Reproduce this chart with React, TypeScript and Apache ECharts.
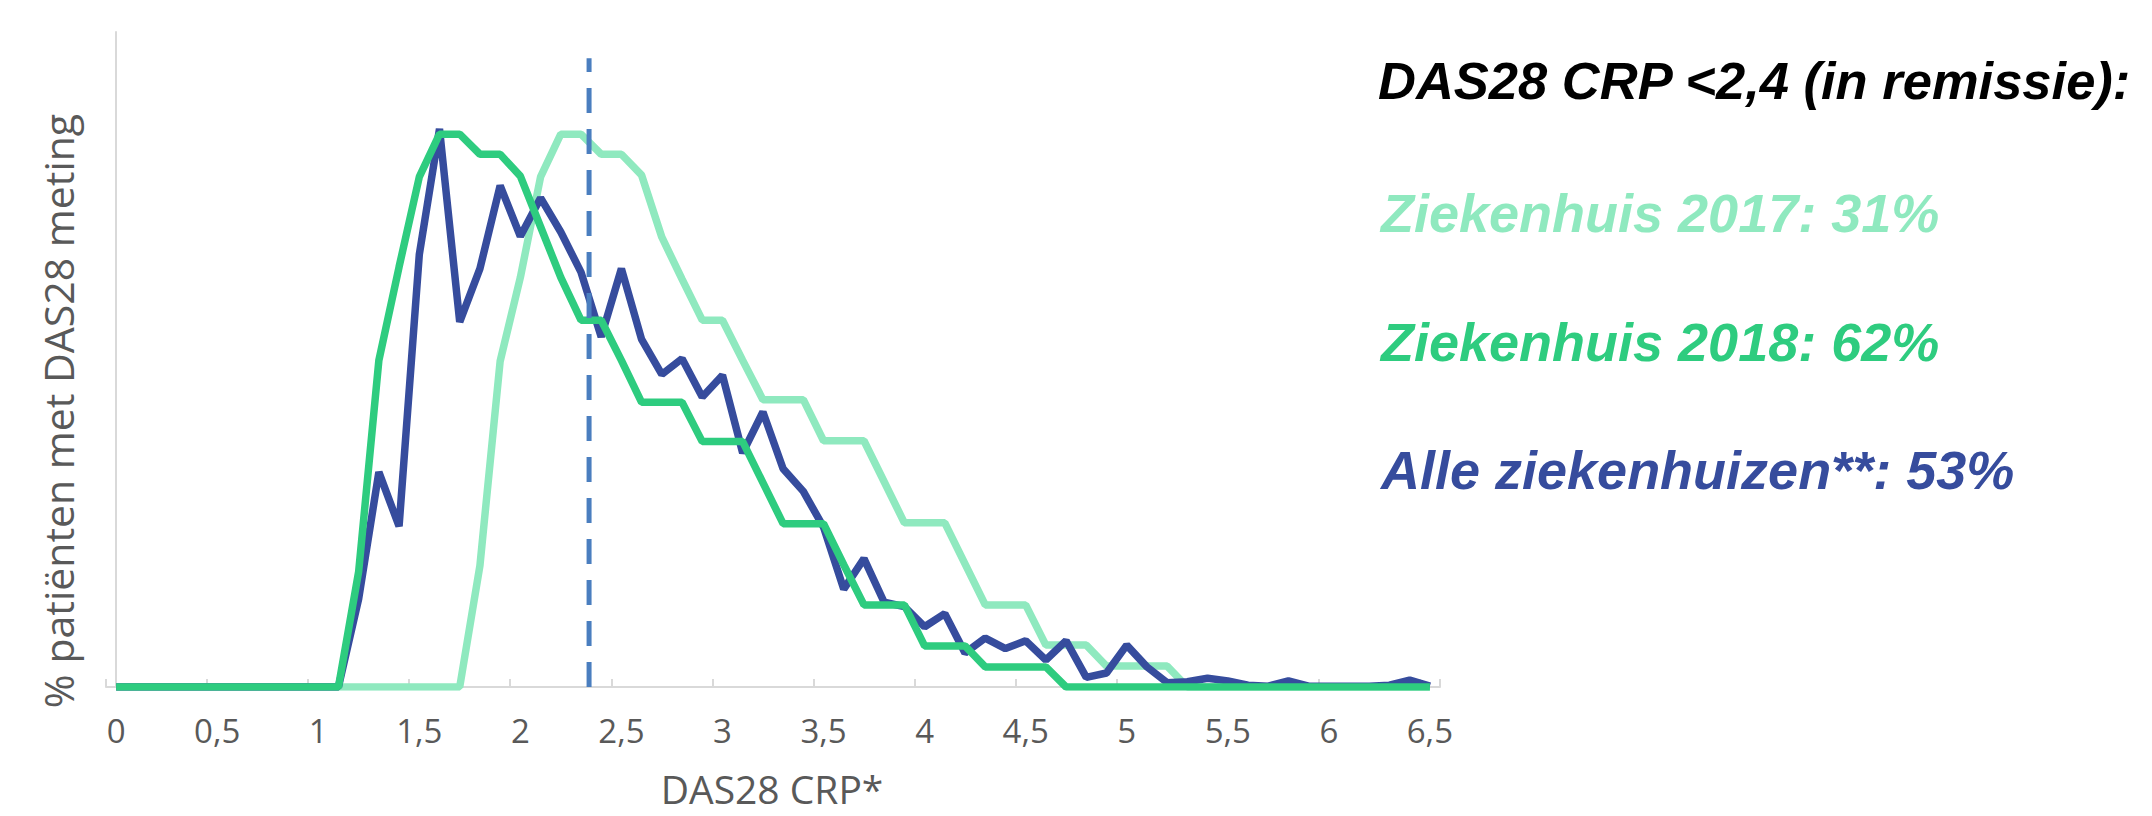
import React, { useEffect, useRef } from "react";
import * as echarts from "echarts";

const CATEGORIES = [
  "0", "0,1", "0,2", "0,3", "0,4", "0,5", "0,6", "0,7", "0,8", "0,9",
  "1", "1,1", "1,2", "1,3", "1,4", "1,5", "1,6", "1,7", "1,8", "1,9",
  "2", "2,1", "2,2", "2,3", "2,4", "2,5", "2,6", "2,7", "2,8", "2,9",
  "3", "3,1", "3,2", "3,3", "3,4", "3,5", "3,6", "3,7", "3,8", "3,9",
  "4", "4,1", "4,2", "4,3", "4,4", "4,5", "4,6", "4,7", "4,8", "4,9",
  "5", "5,1", "5,2", "5,3", "5,4", "5,5", "5,6", "5,7", "5,8", "5,9",
  "6", "6,1", "6,2", "6,3", "6,4", "6,5",
];

// % patiënten per DAS28 CRP klasse
const ZIEKENHUIS_2017 = [
  0, 0, 0, 0, 0, 0, 0, 0, 0, 0,
  0, 0, 0, 0, 0, 0, 0, 0, 1.39, 3.73,
  4.69, 5.84, 6.33, 6.33, 6.1, 6.1, 5.86, 5.15, 4.67, 4.2,
  4.2, 3.74, 3.29, 3.29, 3.29, 2.82, 2.82, 2.82, 2.35, 1.88,
  1.88, 1.88, 1.41, 0.94, 0.94, 0.94, 0.48, 0.48, 0.48, 0.24,
  0.24, 0.24, 0.24, 0, 0, 0, 0, 0, 0, 0,
  0, 0, 0, 0, 0, 0,
];

const ZIEKENHUIS_2018 = [
  0, 0, 0, 0, 0, 0, 0, 0, 0, 0,
  0, 0, 1.32, 3.74, 4.81, 5.84, 6.33, 6.33, 6.1, 6.1,
  5.85, 5.27, 4.69, 4.2, 4.2, 3.74, 3.26, 3.26, 3.26, 2.81,
  2.81, 2.81, 2.34, 1.87, 1.87, 1.87, 1.4, 0.94, 0.94, 0.94,
  0.47, 0.47, 0.47, 0.23, 0.23, 0.23, 0.23, 0, 0, 0,
  0, 0, 0, 0, 0, 0, 0, 0, 0, 0,
  0, 0, 0, 0, 0, 0,
];

const ALLE_ZIEKENHUIZEN = [
  0, 0, 0, 0, 0, 0, 0, 0, 0, 0,
  0, 0, 1.01, 2.46, 1.84, 4.95, 6.39, 4.18, 4.79, 5.74,
  5.16, 5.6, 5.21, 4.75, 4.01, 4.79, 3.98, 3.58, 3.76, 3.32,
  3.57, 2.68, 3.15, 2.5, 2.24, 1.83, 1.12, 1.47, 0.97, 0.92,
  0.69, 0.84, 0.39, 0.56, 0.44, 0.53, 0.31, 0.53, 0.11, 0.16,
  0.48, 0.23, 0.05, 0.06, 0.1, 0.07, 0.02, 0.01, 0.07, 0.01,
  0.01, 0.01, 0.01, 0.02, 0.08, 0.01,
];

// remissiegrens (tussen klassen 2,3 en 2,4)
const THRESHOLD_X = 2.34;
const THRESHOLD_TOP = 7.2;

const TITLE = "DAS28 CRP <2,4 (in remissie):";
const LEGEND_TEXTS = [
  "Ziekenhuis 2017: 31%",
  "Ziekenhuis 2018: 62%",
  "Alle ziekenhuizen**: 53%",
];

const C_LIGHT = "#8FE9BF";
const C_GREEN = "#2ECC7F";
const C_BLUE = "#364C9D";
const C_DASH = "#4A7EBF";
const C_AXIS = "#D9D9D9";
const C_TEXT = "#595959";

export default function App() {
  const ref = useRef<HTMLDivElement>(null);

  useEffect(() => {
    if (!ref.current) return;
    const chart = echarts.init(ref.current, undefined, { renderer: "svg" });
    const boldItalic = {
      fontFamily: "'Liberation Sans', Arial, sans-serif",
      fontSize: 54,
      fontWeight: "bold",
      fontStyle: "italic",
    };
    chart.setOption({
      animation: false,
      backgroundColor: "#ffffff",
      grid: { left: 106, right: 712, top: 32, bottom: 129, containLabel: false },
      xAxis: [
        {
          type: "category",
          data: CATEGORIES,
          boundaryGap: true,
          axisLine: { show: true, lineStyle: { color: C_AXIS, width: 2 } },
          axisTick: {
            show: true,
            interval: 4,
            inside: true,
            length: 8,
            alignWithLabel: false,
            lineStyle: { color: C_AXIS, width: 2 },
          },
          axisLabel: {
            interval: 4,
            color: C_TEXT,
            fontSize: 33,
            fontFamily: "'Open Sans', sans-serif",
            margin: 27,
          },
          splitLine: { show: false },
        },
        {
          type: "value",
          min: -0.05,
          max: 6.55,
          show: false,
        },
      ],
      yAxis: {
        type: "value",
        min: 0,
        max: 7.5,
        axisLine: { show: true, lineStyle: { color: C_AXIS, width: 2 } },
        axisTick: { show: false },
        axisLabel: { show: false },
        splitLine: { show: false },
      },
      series: [
        {
          name: "Ziekenhuis 2017",
          type: "line",
          data: ZIEKENHUIS_2017,
          symbol: "none",
          lineStyle: { color: C_LIGHT, width: 7.5 },
          itemStyle: { color: C_LIGHT },
          z: 2,
        },
        {
          name: "Alle ziekenhuizen",
          type: "line",
          data: ALLE_ZIEKENHUIZEN,
          symbol: "none",
          lineStyle: { color: C_BLUE, width: 7.5 },
          itemStyle: { color: C_BLUE },
          z: 3,
        },
        {
          name: "Ziekenhuis 2018",
          type: "line",
          data: ZIEKENHUIS_2018,
          symbol: "none",
          lineStyle: { color: C_GREEN, width: 7.5 },
          itemStyle: { color: C_GREEN },
          z: 4,
        },
        {
          name: "Remissiegrens",
          type: "line",
          xAxisIndex: 1,
          data: [
            [THRESHOLD_X, 0],
            [THRESHOLD_X, THRESHOLD_TOP],
          ],
          symbol: "none",
          lineStyle: { color: C_DASH, width: 5, type: [25, 16], cap: "butt" },
          itemStyle: { color: C_DASH },
          z: 5,
        },
      ],
      graphic: [
        {
          type: "text",
          x: 58,
          y: 411,
          rotation: Math.PI / 2,
          style: {
            text: "% patiënten met DAS28 meting",
            fontFamily: "'Open Sans', sans-serif",
            fontSize: 41,
            fill: C_TEXT,
            textAlign: "center",
            textVerticalAlign: "middle",
          },
        },
        {
          type: "text",
          x: 772,
          y: 788,
          style: {
            text: "DAS28 CRP*",
            fontFamily: "'Open Sans', sans-serif",
            fontSize: 39,
            fill: C_TEXT,
            textAlign: "center",
            textVerticalAlign: "middle",
          },
        },
        {
          type: "text",
          x: 1378,
          y: 80,
          style: {
            ...boldItalic,
            fontSize: 52.5,
            text: TITLE,
            fill: "#000000",
            textVerticalAlign: "middle",
          },
        },
        {
          type: "text",
          x: 1381,
          y: 213,
          style: { ...boldItalic, text: LEGEND_TEXTS[0], fill: C_LIGHT, textVerticalAlign: "middle" },
        },
        {
          type: "text",
          x: 1381,
          y: 342,
          style: { ...boldItalic, text: LEGEND_TEXTS[1], fill: C_GREEN, textVerticalAlign: "middle" },
        },
        {
          type: "text",
          x: 1381,
          y: 470,
          style: { ...boldItalic, text: LEGEND_TEXTS[2], fill: C_BLUE, textVerticalAlign: "middle" },
        },
      ],
    });
    return () => chart.dispose();
  }, []);

  return (
    <div
      ref={ref}
      style={{ position: "fixed", left: 0, top: 0, width: 2152, height: 816, background: "#fff" }}
    />
  );
}
